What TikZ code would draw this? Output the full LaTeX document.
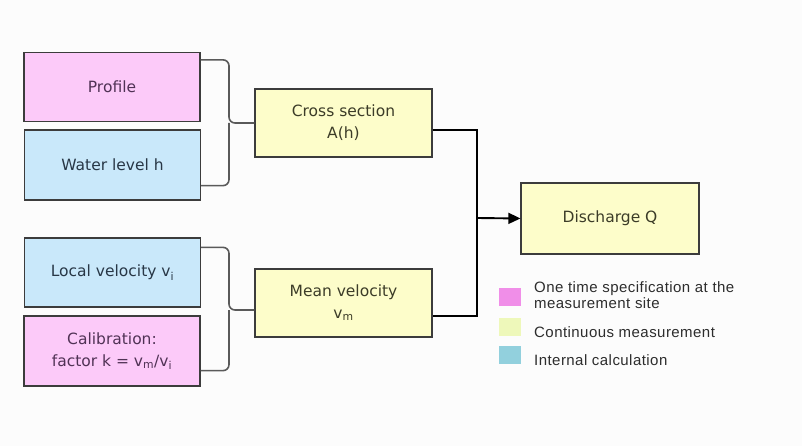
\documentclass[tikz,border=0pt]{standalone}
\usepackage{fontspec}
\setmainfont{DejaVu Sans}
\newfontfamily\legfont[LetterSpace=3]{Liberation Sans}
\usetikzlibrary{arrows.meta}
\definecolor{bg}{RGB}{252,252,252}
\definecolor{pinkf}{RGB}{252,202,249}
\definecolor{bluef}{RGB}{201,232,250}
\definecolor{yellf}{RGB}{253,253,202}
\definecolor{legpink}{RGB}{240,142,232}
\definecolor{legyell}{RGB}{238,248,186}
\definecolor{legblue}{RGB}{146,208,221}
\definecolor{bordc}{RGB}{60,60,60}
\definecolor{bracec}{RGB}{90,90,90}
\definecolor{txtc}{RGB}{58,58,58}
\tikzset{
  box/.style={draw=bordc, line width=1.3pt, minimum width=176pt, minimum height=69pt,
    inner sep=0pt, align=center, text=txtc, font=\fontsize{15.5}{22}\selectfont},
  pinkbox/.style={box, fill=pinkf, text={rgb,255:red,80;green,50;blue,85}},
  bluebox/.style={box, fill=bluef, text={rgb,255:red,40;green,55;blue,70}},
  yellbox/.style={box, fill=yellf, text={rgb,255:red,60;green,60;blue,40}},
  brace/.style={draw=bracec, line width=1.6pt, rounded corners=6pt},
  conn/.style={draw=black, line width=1.9pt},
  arr/.style={conn, -{Triangle[length=12pt,width=11pt]}},
  legsq/.style={minimum width=22pt, minimum height=18pt, inner sep=0pt},
  legtxt/.style={anchor=west, align=left, inner sep=0pt, text={rgb,255:red,45;green,45;blue,45},
    font=\legfont\fontsize{15}{16.5}\selectfont},
}
\begin{document}
\begin{tikzpicture}[x=1pt,y=-1pt]
\fill[bg] (0,0) rectangle (802,446);
\useasboundingbox (0,0) rectangle (802,446);

% left boxes
\node[pinkbox] (profile) at (112,87) {Profile};
\node[bluebox, minimum height=70pt] (water) at (112.5,165) {Water level h};
\node[bluebox] (local) at (112.5,272.5) {Local velocity v\textsubscript{i}};
\node[pinkbox, minimum height=70pt] (calib) at (112,351) {Calibration:\\factor k = v\textsubscript{m}/v\textsubscript{i}};

% middle boxes
\node[yellbox, minimum width=177pt, minimum height=68pt] (cross) at (343.5,123) {Cross section\\A(h)};
\node[yellbox, minimum width=177pt, minimum height=68pt] (mean) at (343.5,303) {Mean velocity\\v\textsubscript{m}};

% discharge
\node[yellbox, minimum width=178pt, minimum height=71pt] (disch) at (610,218.5) {Discharge Q};

% braces
\coordinate (b1) at (229,123);
\coordinate (b2) at (229,310);
\draw[brace] ([yshift=-8pt]profile.north east) -| (b1) -- (cross.west);
\draw[brace] ([yshift=15pt]water.south east) -| (b1);
\draw[brace] ([yshift=-10pt]local.north east) -| (b2) -- ([yshift=-7pt]mean.west);
\draw[brace] ([yshift=16pt]calib.south east) -| (b2);

% connectors
\coordinate (j) at (477,218);
\draw[conn] ([yshift=-7pt]cross.east) -| (j) |- ([yshift=-13pt]mean.east);
\draw[arr] (j) -- (disch.west);

% legend
\node[legsq, fill=legpink] (lp) at (510,296.5) {};
\node[legsq, fill=legyell] (ly) at (510,326.5) {};
\node[legsq, fill=legblue] (lb) at (510,355) {};
\node[legtxt] (tp) at (534,295) {One time specification at the\\measurement site};
\node[legtxt] (ty) at (534,332) {Continuous measurement};
\node[legtxt] (tb) at (534,360) {Internal calculation};
\end{tikzpicture}
\end{document}
